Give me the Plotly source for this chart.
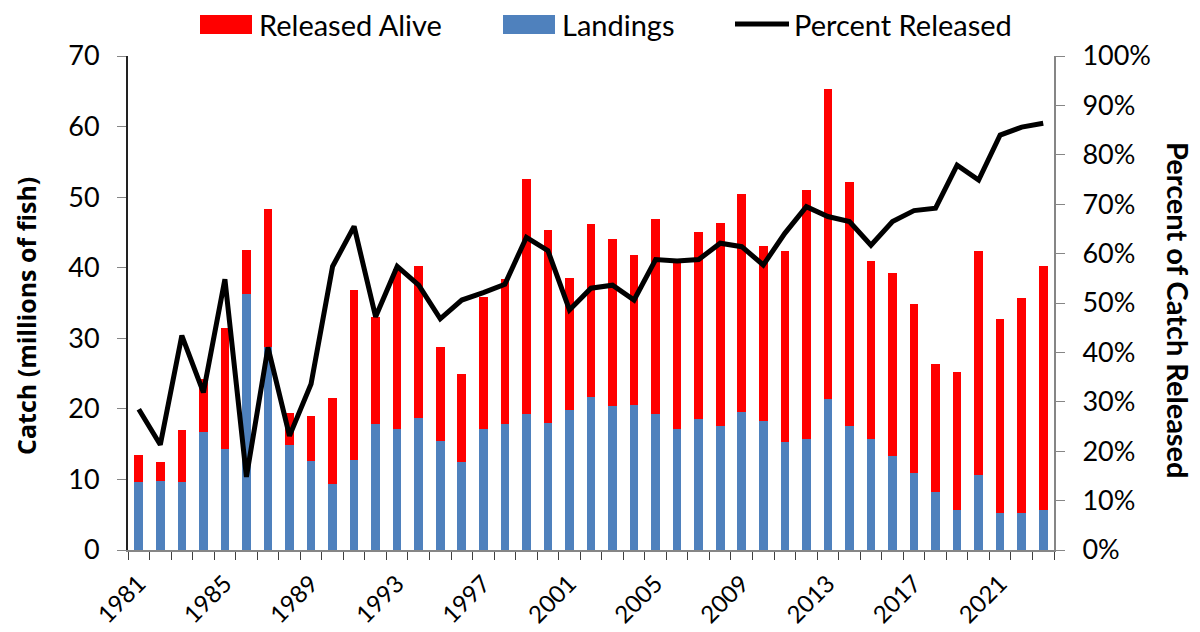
import plotly.graph_objects as go

years = list(range(1981, 2024))
landings = [9.6, 9.8, 9.7, 16.7, 14.3, 36.3, 28.8, 14.9, 12.6, 9.3,
            12.8, 17.9, 17.1, 18.7, 15.4, 12.4, 17.2, 17.8, 19.3, 18.0,
            19.9, 21.7, 20.4, 20.6, 19.3, 17.2, 18.6, 17.6, 19.6, 18.3,
            15.3, 15.7, 21.4, 17.6, 15.7, 13.3, 10.9, 8.2, 5.6, 10.6,
            5.3, 5.2, 5.6]
totals = [13.4, 12.4, 17.0, 24.3, 31.4, 42.5, 48.3, 19.4, 19.0, 21.6,
          36.8, 33.0, 39.8, 40.3, 28.8, 25.0, 35.8, 38.4, 52.6, 45.4,
          38.6, 46.2, 44.0, 41.8, 46.9, 40.8, 45.1, 46.3, 50.4, 43.1,
          42.3, 51.0, 65.3, 52.2, 40.9, 39.3, 34.8, 26.3, 25.2, 42.4,
          32.7, 35.7, 40.3]
released = [round(t - l, 2) for t, l in zip(totals, landings)]
pct_released = [28.5, 21.3, 43.4, 31.9, 54.8, 14.8, 41.0, 23.1, 33.6, 57.4,
                65.5, 47.2, 57.4, 53.6, 46.8, 50.6, 52.1, 53.8, 63.3, 60.6,
                48.6, 53.0, 53.6, 50.6, 58.8, 58.5, 58.8, 62.1, 61.4, 57.7,
                64.1, 69.5, 67.5, 66.5, 61.7, 66.5, 68.7, 69.2, 77.9, 74.9,
                84.0, 85.6, 86.4]
tick_years = list(range(1981, 2022, 4))
left_ticks = list(range(0, 71, 10))
right_ticks = list(range(0, 101, 10))

series_names = ["Released Alive", "Landings", "Percent Released"]
RED, BLUE = "#FF0000", "#4F81BD"

FONT = "Lato, 'Open Sans', sans-serif"

# the page body has an 8px margin; size the figure so it fills the 1200x632 window
OFF = 8
W, H = 1200 - OFF, 632 - OFF
L, R, T, B = 120, 146, 48, 82
PW, PH = W - L - R, H - T - B


def px(page_x):
    return (page_x - OFF - L) / PW


def py(page_y):
    return (H - B - (page_y - OFF)) / PH


fig = go.Figure()
fig.add_trace(go.Bar(x=years, y=landings, name=series_names[1], marker_color=BLUE,
                     marker_line_width=0, width=0.4, showlegend=False))
fig.add_trace(go.Bar(x=years, y=released, name=series_names[0], marker_color=RED,
                     marker_line_width=0, width=0.4, showlegend=False))
fig.add_trace(go.Scatter(x=years, y=[p / 100 for p in pct_released], name=series_names[2],
                         mode="lines", line=dict(color="black", width=5), yaxis="y2",
                         showlegend=False))

# custom legend (swatches + labels)
shapes = [
    dict(type="rect", xref="paper", yref="paper", x0=px(200), x1=px(252), y0=py(34), y1=py(15),
         fillcolor=RED, line_width=0),
    dict(type="rect", xref="paper", yref="paper", x0=px(503), x1=px(555), y0=py(34), y1=py(15),
         fillcolor=BLUE, line_width=0),
    dict(type="line", xref="paper", yref="paper", x0=px(735), x1=px(789), y0=py(24), y1=py(24),
         line=dict(color="black", width=5)),
]
legend_x = [257, 560, 792]
annotations = [
    dict(text=name, xref="paper", yref="paper", x=px(lx), y=py(24), xanchor="left",
         yanchor="middle", showarrow=False, font=dict(size=29))
    for name, lx in zip(series_names, legend_x)
]
annotations += [
    dict(text="<b>Catch (millions of fish)</b>", xref="paper", yref="paper",
         x=px(8), y=py(316), textangle=-90, showarrow=False,
         font=dict(size=25, family="'Open Sans', sans-serif"),
         xanchor="left", yanchor="middle", borderpad=0),
    dict(text="<b>Percent of Catch Released</b>", xref="paper", yref="paper",
         x=px(1179), y=py(310), textangle=90, showarrow=False, font=dict(size=29),
         xanchor="center", yanchor="middle"),
]

fig.update_layout(
    barmode="stack",
    width=W, height=H,
    margin=dict(l=L, r=R, t=T, b=B, autoexpand=False),
    plot_bgcolor="white", paper_bgcolor="white",
    font=dict(family=FONT, size=26, color="black"),
    showlegend=False,
    xaxis=dict(range=[1980.5, 2023.5], tickmode="array", tickvals=tick_years,
               ticktext=[str(y) for y in tick_years], tickangle=-45, ticks="",
               tickfont=dict(size=24), showline=True, linecolor="#868686", linewidth=2,
               showgrid=False, zeroline=False, ticklabelstandoff=8,
               minor=dict(tickmode="linear", tick0=0.5, dtick=1, ticks="outside",
                          ticklen=8, tickcolor="#404040", showgrid=False)),
    yaxis=dict(range=[0, 70], tickvals=left_ticks, ticks="outside", ticklen=9,
               tickcolor="#868686", showline=True, linecolor="#222222", linewidth=2,
               showgrid=False, zeroline=False, tickfont=dict(size=27), ticklabelstandoff=12),
    yaxis2=dict(range=[0, 1], overlaying="y", side="right", tickvals=[t / 100 for t in right_ticks],
                tickformat=".0%", ticks="outside", ticklen=9, tickcolor="#868686",
                showline=True, linecolor="#868686", linewidth=2, showgrid=False,
                zeroline=False, tickfont=dict(size=27), ticklabelstandoff=12),
    shapes=shapes,
    annotations=annotations,
)

fig.write_html("out.html")
